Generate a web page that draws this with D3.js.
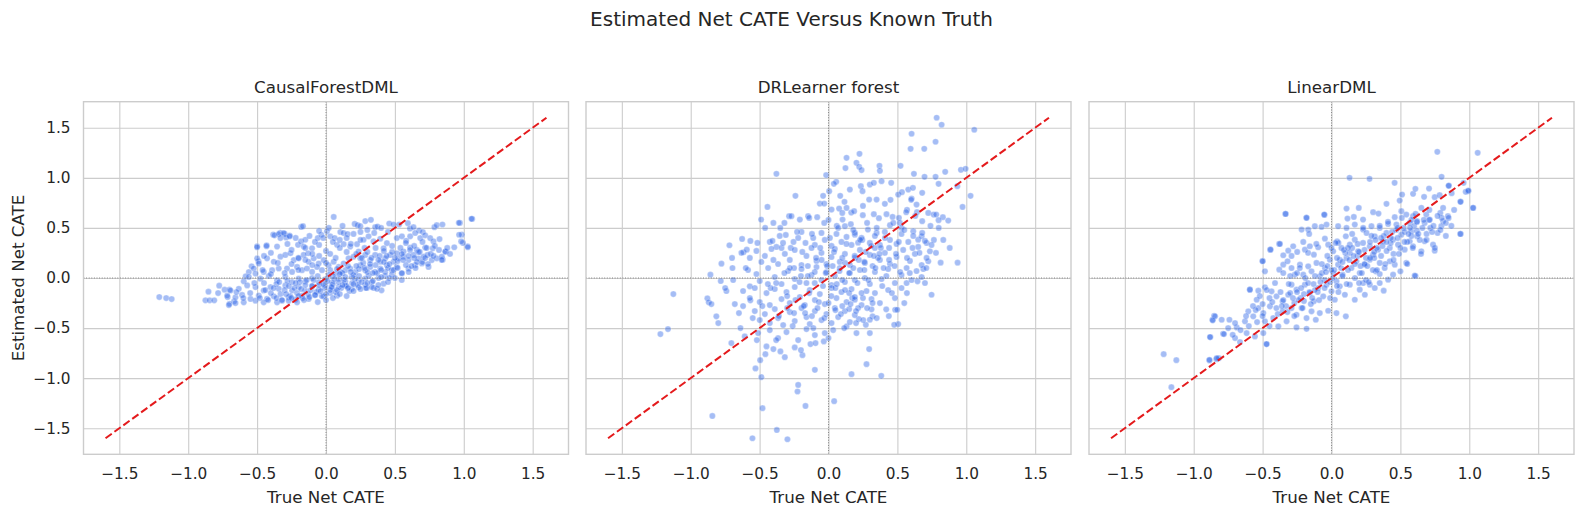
<!DOCTYPE html>
<html>
<head>
<meta charset="utf-8">
<script src="https://cdn.jsdelivr.net/npm/d3@7"></script>
<style>
  body { margin: 0; background: #fff; }
  svg { display: block; font-family: "DejaVu Sans", sans-serif; }
</style>
</head>
<body>
<script>
// chart values
var suptitle = "Estimated Net CATE Versus Known Truth";
var panelTitles = ["CausalForestDML", "DRLearner forest", "LinearDML"];
var xLabel = "True Net CATE";
var yLabel = "Estimated Net CATE";
var xTicks = [-1.5, -1, -0.5, 0, 0.5, 1, 1.5];
var yTicks = [-1.5, -1, -0.5, 0, 0.5, 1, 1.5];
var diagLine = [-1.6, 1.6];

var causalForestPts = [
  [-1.21,-0.19],[-1.16,-0.2],[-1.12,-0.21],[-0.875,-0.223],[-0.844,-0.223],[-0.811,-0.223],[-0.853,-0.137],[-0.775,-0.077],[-0.783,-0.15],[-0.736,-0.117],[-0.70,-0.117],[-0.714,-0.19],[-0.667,-0.233],[-0.70,-0.257],
  [-0.50,0.317],[-0.431,0.327],[-0.383,0.433],[-0.333,0.45],[-0.30,0.44],[-0.264,0.423],[-0.18,0.51],[-0.167,0.517],[0.056,0.61],[-0.49,0.167],[-0.54,0.117],[-0.56,0.06],[-0.597,-0.033],[-0.583,0.017],
  [0.403,-0.123],[0.297,-0.10],[0.347,-0.10],
  [0.869,0.263],[0.847,0.183],[0.931,0.307],[1.028,0.317],[0.986,0.433],[0.972,0.55],[1.061,0.59],[0.994,0.35],
  [0.208,0.54],[0.229,0.527],[0.249,0.517],[0.285,0.568],[0.326,0.581],[0.357,0.507],[0.374,0.514],[0.459,0.544],[0.49,0.534],[0.531,0.534],[0.594,0.547],[0.609,0.493],[0.635,0.507],[0.676,0.473],[0.703,0.459],[0.787,0.507],[0.804,0.527],[0.845,0.534],[0.964,0.551],[1.056,0.591],[0.966,0.432],[0.981,0.365],[1.029,0.307],
  [-0.374,0.426],[-0.343,0.439],[-0.307,0.449],[-0.290,0.405],[-0.331,0.399],[-0.263,0.416],[-0.355,0.314],[-0.432,0.318],[-0.5,0.307],[-0.203,0.331],[-0.181,0.365],[-0.150,0.382],[-0.162,0.314],[-0.101,0.297],[-0.130,0.247],
  [-0.060,0.399],[-0.034,0.432],[0.007,0.466],[0.031,0.416],[0.063,0.399],[0.104,0.459],[0.128,0.449],[0.157,0.439],[0.080,0.331],[0.128,0.338],[0.176,0.314],[0.225,0.338],[0.237,0.264],[0.273,0.382],[0.309,0.416],[0.345,0.365],[0.394,0.392],[0.442,0.348],[0.418,0.297],[0.514,0.399],[0.551,0.416],[0.582,0.372],[0.611,0.416],[0.647,0.449],[0.684,0.399],[0.720,0.426],[0.756,0.399],[0.780,0.365],[0.824,0.389],[0.775,0.297],[0.720,0.304],[0.659,0.280],[0.611,0.304],[0.563,0.264],[0.514,0.247],
  [-0.50,0.196],[-0.524,0.095],[-0.488,0.145],[-0.428,0.196],[-0.379,0.162],[-0.331,0.213],[-0.295,0.230],[-0.258,0.247],[-0.234,0.179],[-0.198,0.196],[-0.162,0.230],[-0.126,0.162],[-0.089,0.196],[-0.053,0.145],[-0.017,0.179],[0.019,0.128],[0.056,0.162],[0.092,0.111],[0.128,0.145],[0.164,0.196],[0.2,0.213],[0.249,0.196],[0.285,0.230],[0.321,0.179],[0.357,0.230],[0.394,0.162],[0.430,0.196],[0.466,0.230],[0.490,0.162],[0.527,0.196],[0.563,0.213],[0.599,0.179],[0.635,0.230],[0.671,0.196],[0.708,0.213],[0.737,0.230],[0.768,0.179],[0.804,0.196],[0.841,0.213],[0.865,0.264],
  [-0.512,0.044],[-0.452,0.061],[-0.391,0.078],[-0.343,0.095],[-0.283,0.095],[-0.246,0.061],[-0.210,0.111],[-0.174,0.078],[-0.138,0.095],[-0.101,0.061],[-0.065,0.111],[-0.029,0.078],[0.031,0.078],[0.068,0.044],[0.104,0.061],[0.140,0.078],[0.176,0.095],[0.213,0.061],[0.249,0.128],[0.285,0.078],[0.321,0.111],[0.357,0.061],[0.394,0.095],[0.442,0.128],[0.478,0.078],[0.514,0.111],[0.551,0.044],[0.599,0.095],[0.647,0.128],[0.696,0.145],[0.744,0.111],
  [-0.560,0.010],[-0.476,-0.007],[-0.415,0.020],[-0.355,-0.024],[-0.295,0.010],[-0.246,-0.041],[-0.198,-0.007],[-0.150,-0.034],[-0.101,0.0],[-0.053,-0.041],[-0.005,-0.014],[0.043,-0.047],[0.092,-0.007],[0.140,-0.034],[0.188,0.010],[0.237,-0.024],[0.285,-0.007],[0.333,-0.041],[0.382,0.0],[0.430,0.020],[0.478,0.034],
  [-0.693,-0.125],[-0.633,-0.108],[-0.572,-0.074],[-0.512,-0.091],[-0.452,-0.125],[-0.403,-0.091],[-0.343,-0.108],[-0.295,-0.074],[-0.246,-0.125],[-0.198,-0.091],[-0.150,-0.125],[-0.101,-0.081],[-0.053,-0.115],[-0.005,-0.074],[0.043,-0.101],[0.092,-0.091],[0.140,-0.074],[0.188,-0.108],[0.237,-0.091],[0.285,-0.068],[0.333,-0.091],[0.370,-0.108],[0.418,-0.057],
  [-0.717,-0.176],[-0.657,-0.193],[-0.609,-0.169],[-0.548,-0.209],[-0.488,-0.176],[-0.428,-0.209],[-0.379,-0.182],[-0.319,-0.226],[-0.271,-0.193],[-0.222,-0.216],[-0.174,-0.176],[-0.126,-0.209],[-0.077,-0.169],[-0.017,-0.182],[0.031,-0.149],[0.080,-0.176],
  [-0.705,-0.270],[-0.657,-0.250],[-0.597,-0.243],[-0.512,-0.226],[-0.452,-0.243],[-0.355,-0.243],[-0.271,-0.226],[-0.210,-0.243],
  [-0.45,-0.05],[-0.40,-0.15],[-0.36,-0.06],[-0.33,-0.16],[-0.30,-0.12],[-0.28,-0.03],[-0.26,-0.18],[-0.23,-0.10],[-0.21,-0.15],[-0.19,-0.04],[-0.17,-0.20],[-0.15,-0.07],[-0.13,-0.16],[-0.11,-0.12],[-0.09,-0.02],[-0.07,-0.14],[-0.05,-0.07],[-0.03,-0.18],[-0.01,-0.10],[0.01,-0.03],[0.03,-0.12],[0.05,-0.06],[0.07,-0.14],[0.09,-0.04],[0.11,-0.10],[0.13,-0.02],[0.15,-0.08],[0.17,-0.13],[0.19,-0.05],[0.21,-0.01],[0.23,-0.07],[0.26,-0.04],[0.29,-0.10],[0.31,0.02],[0.34,-0.03],[0.37,0.05],[0.40,0.01],[0.43,0.06],[0.46,0.00],[0.49,0.08],
  [0.05,0.02],[0.08,0.09],[0.12,0.05],[0.16,0.12],[0.20,0.03],[0.24,0.09],[0.27,0.15],[0.30,0.06],[0.33,0.20],[0.36,0.13],[0.39,0.22],[0.42,0.16],[0.45,0.10],[0.48,0.26],[0.52,0.17],[0.55,0.24],[0.58,0.13],[0.61,0.28],[0.64,0.20],[0.67,0.26],[0.70,0.16],[0.73,0.30],[0.76,0.24],[0.79,0.32],[0.55,0.05],[0.60,0.06],[0.65,0.10],
  [-0.25,0.28],[-0.20,0.20],[-0.15,0.30],[-0.10,0.24],[-0.05,0.33],[0.0,0.27],[0.05,0.36],[0.10,0.30],[0.15,0.40],[0.20,0.44],[0.25,0.46],[0.30,0.48],[0.35,0.45],[0.45,0.46],[0.40,0.50],[-0.05,0.47],[0.02,0.50],[0.12,0.52],
  [-0.48,-0.20],[-0.44,-0.12],[-0.42,-0.22],[-0.38,-0.10],[-0.36,-0.20],[-0.34,-0.04],[-0.32,-0.22],[-0.29,-0.16],[-0.27,-0.08],[-0.25,-0.20],[-0.22,-0.05],[-0.20,-0.18],[-0.18,-0.11],[-0.16,-0.22],[-0.14,-0.02],[-0.12,-0.19],[-0.10,-0.08],[-0.08,-0.17],[-0.06,0.02],[-0.04,-0.13],[-0.02,-0.06],[0.0,-0.16],[0.02,0.03],[0.04,-0.09],[0.06,-0.01],[0.08,-0.12],[0.10,0.04],[0.12,-0.07],[0.14,0.01],[0.16,-0.10],[0.18,0.06],[0.20,-0.06],[0.22,0.12],[0.24,0.02],[0.26,0.20],[0.28,0.10],[0.30,0.26],[0.32,0.14],[0.34,0.05],[0.36,0.30],[0.38,0.18],[0.40,0.08],[0.42,0.27],[0.44,0.22],[0.46,0.14],[0.48,0.32],[0.50,0.20],[0.52,0.10],[0.54,0.30],[0.56,0.18],[0.58,0.35],[0.60,0.22],[0.62,0.12],[0.64,0.32],[0.66,0.16],[0.68,0.26],[0.70,0.36],[0.72,0.20],[0.74,0.14],[0.78,0.22],[0.82,0.28],[0.84,0.18],[0.88,0.30],[0.90,0.24],
  [-0.55,-0.15],[-0.60,-0.20],[-0.65,-0.14],[-0.52,-0.05],[-0.46,0.08],[-0.40,0.04],[-0.35,0.15],[-0.30,0.05],[-0.25,0.14],[-0.20,0.08],[-0.15,0.18],[-0.10,0.13],[-0.05,0.22],[0.0,0.15],[0.03,0.24],[0.07,0.20],[0.10,0.38],[0.15,0.26],[0.18,0.34],[0.22,0.24],[0.25,0.38],[0.28,0.30],[-0.02,0.40],[-0.08,0.36],[-0.12,0.42],[-0.40,0.25],[-0.45,0.22],[-0.28,0.34],[-0.22,0.40],[0.0,-0.22],[-0.06,-0.24],[0.05,-0.20],[0.10,-0.16],[0.15,-0.18],[0.20,-0.13],[0.25,-0.11],[0.30,-0.05],[0.38,-0.07],[0.45,-0.04],[0.50,0.00],[0.55,-0.02]
];

var drLearnerPts = [
  [0.785,1.60],[0.821,1.53],[1.058,1.48],[0.603,1.44],[0.777,1.36],[0.596,1.29],[0.695,1.29],[0.225,1.24],[0.131,1.20],[0.203,1.15],[0.223,1.11],[0.240,1.077],[0.123,1.097],[0.370,1.12],[0.373,1.07],[0.523,1.12],[-0.378,1.04],[-0.017,1.027],[0.620,1.04],[0.697,1.01],[0.777,1.01],[0.847,1.06],[0.961,1.08],[0.995,1.09],[0.799,0.94],[0.935,0.917],[1.031,0.82],[0.973,0.71],
  [0.056,0.96],[0.039,0.94],[0.005,0.867],[0.085,0.82],[-0.039,0.82],[-0.063,0.743],[-0.031,0.743],[-0.24,0.82],[-0.443,0.71],[0.155,0.883],[0.235,0.917],[0.300,0.933],[0.329,0.95],[0.385,0.967],[0.455,0.95],[0.247,0.867],[0.295,0.783],[0.349,0.783],[0.409,0.74],[0.506,0.833],[0.533,0.857],[0.579,0.883],[0.613,0.9],[0.603,0.793],[0.680,0.85],[0.639,0.733],[0.57,0.68],
  [0.077,0.693],[0.131,0.70],[0.116,0.76],[0.165,0.653],[0.186,0.667],[0.249,0.627],[0.329,0.637],[0.366,0.597],[0.421,0.637],[0.465,0.61],[0.511,0.60],[0.564,0.657],[0.680,0.567],[0.724,0.65],[0.763,0.633],[0.782,0.633],[0.83,0.607],[0.869,0.573],[0.799,0.577],[0.642,0.657],[0.022,0.683],
  [0.102,0.583],[0.119,0.517],[0.162,0.537],[0.191,0.433],[0.215,0.353],[0.245,0.38],[0.286,0.483],[0.349,0.45],[0.446,0.527],[0.518,0.55],[0.530,0.5],[0.615,0.467],[0.651,0.383],[0.712,0.35],[0.765,0.38],[0.833,0.38],[0.814,0.153],[0.937,0.153],[0.676,0.417],[0.736,0.267],[0.724,0.167],[0.688,0.09],[0.646,-0.033],[0.748,-0.167],[0.569,-0.15],[0.567,-0.05],
  [0.484,-0.317],[0.499,-0.317],[0.506,-0.46],[0.477,-0.467],[0.419,-0.313],[0.438,-0.38],[0.312,-0.313],[0.320,-0.383],[0.3,-0.417],[0.271,-0.467],[0.295,-0.71],[0.276,-0.86],[0.383,-0.977],[0.167,-0.96],[0.203,-0.55],[0.131,-0.483],[0.114,-0.5],[0.22,-0.41],[0.172,-0.2],[0.191,-0.217],
  [-0.027,-0.55],[-0.034,-0.633],[0.041,-1.23],[-0.099,-0.917],[-0.167,-1.277],[-0.22,-1.067],[-0.225,-1.133],[-0.131,-0.66],[-0.094,-0.65],[-0.189,-0.77],[-0.245,-0.693],[-0.317,-0.79],[-0.349,-0.733],[-0.4,-0.71],[-0.45,-0.683],[-0.458,-0.76],[-0.496,-0.82],[-0.530,-0.903],[-0.487,-0.99],[-0.479,-1.3],[-0.375,-1.517],[-0.552,-1.6],[-0.298,-1.61],[-0.843,-1.377],
  [-0.511,-0.55],[-0.639,-0.5],[-0.705,-0.65],[-0.608,-0.583],[-1.22,-0.56],[-1.165,-0.51],[-1.126,-0.16],[-0.879,-0.203],[-0.869,-0.243],[-0.85,-0.26],[-0.814,-0.383],[-0.857,0.033],[-0.782,-0.03],[-0.777,0.143],[-0.697,0.1],[-0.719,0.327],[-0.627,0.39],[-0.617,0.257],[-0.567,0.37],[-0.593,0.283],[-0.516,0.35],[-0.489,0.583],[-0.741,-0.13],[-0.68,-0.26],[-0.62,-0.28],[-0.571,-0.083],[-0.567,-0.223],
  [-0.286,0.617],[-0.269,0.617],[-0.208,0.583],[-0.148,0.617],[-0.082,0.607],[-0.031,0.55],[-0.35,0.5],[-0.4,0.55],[0.0,0.58],[0.06,0.52],
  [-0.426,0.36],[-0.407,0.37],[-0.378,0.31],[-0.354,0.42],[-0.31,0.43],[-0.341,0.30],[-0.254,0.36],[-0.274,0.30],[-0.196,0.46],[-0.228,0.46],[-0.167,0.35],[-0.111,0.40],[-0.099,0.33],[-0.051,0.45],[-0.027,0.38],[0.022,0.32],[0.058,0.44],[0.094,0.36],[0.131,0.41],[0.167,0.33],[0.191,0.45],[0.240,0.40],[0.300,0.35],[0.337,0.42],[0.373,0.33],[0.409,0.46],[0.446,0.38],[0.494,0.34],[0.530,0.44],[0.579,0.36],[0.615,0.42],[0.651,0.31],[0.70,0.37],[0.748,0.33],
  [-0.632,0.25],[-0.571,0.20],[-0.523,0.27],[-0.487,0.16],[-0.462,0.22],[-0.414,0.29],[-0.366,0.14],[-0.317,0.24],[-0.281,0.18],[-0.245,0.28],[-0.196,0.13],[-0.16,0.22],[-0.123,0.30],[-0.087,0.17],[-0.051,0.25],[-0.015,0.14],[0.022,0.21],[0.046,0.29],[0.082,0.16],[0.119,0.24],[0.155,0.13],[0.191,0.20],[0.228,0.28],[0.264,0.15],[0.3,0.23],[0.337,0.30],[0.373,0.18],[0.409,0.25],[0.446,0.14],[0.494,0.21],[0.542,0.28],[0.591,0.17],[0.627,0.24],[0.676,0.13],[0.712,0.20],
  [-0.692,-0.02],[-0.584,0.08],[-0.523,0.04],[-0.499,-0.03],[-0.438,0.10],[-0.39,0.01],[-0.341,-0.06],[-0.293,0.07],[-0.245,-0.01],[-0.196,0.09],[-0.16,-0.05],[-0.123,0.03],[-0.087,0.11],[-0.051,-0.02],[-0.015,0.06],[0.022,-0.07],[0.046,0.02],[0.082,0.10],[0.119,-0.04],[0.155,0.05],[0.191,-0.02],[0.228,0.08],[0.264,0.00],[0.300,-0.06],[0.337,0.06],[0.385,-0.01],[0.433,0.09],[0.482,-0.05],[0.530,0.03],[0.567,0.10],[0.603,-0.02],[0.639,0.07],[0.676,0.01],
  [-0.62,-0.13],[-0.571,-0.20],[-0.535,-0.10],[-0.499,-0.24],[-0.45,-0.15],[-0.426,-0.27],[-0.39,-0.11],[-0.341,-0.21],[-0.305,-0.14],[-0.281,-0.25],[-0.245,-0.09],[-0.208,-0.19],[-0.172,-0.27],[-0.136,-0.12],[-0.099,-0.22],[-0.063,-0.16],[-0.027,-0.26],[0.022,-0.10],[0.058,-0.20],[0.094,-0.14],[0.131,-0.24],[0.167,-0.11],[0.191,-0.19],[0.240,-0.27],[0.276,-0.13],[0.312,-0.21],[0.337,-0.15],[0.373,-0.25],[0.433,-0.12],[0.482,-0.20],
  [-0.535,-0.33],[-0.499,-0.42],[-0.462,-0.36],[-0.426,-0.45],[-0.39,-0.31],[-0.366,-0.40],[-0.329,-0.47],[-0.281,-0.34],[-0.245,-0.43],[-0.196,-0.30],[-0.16,-0.39],[-0.136,-0.46],[-0.099,-0.33],[-0.051,-0.42],[-0.015,-0.36],[0.022,-0.45],[0.046,-0.30],[0.07,-0.39],[0.119,-0.33],[0.155,-0.44],[0.191,-0.37],[0.215,-0.30],[0.252,-0.42],
  [-0.426,-0.52],[-0.366,-0.60],[-0.305,-0.54],[-0.22,-0.62],[-0.16,-0.51],[-0.099,-0.57],[0.034,-0.52],[0.3,-0.55],
  [-0.30,-0.30],[-0.25,-0.35],[-0.18,-0.28],[-0.12,-0.38],[-0.08,-0.30],[0.0,-0.25],[0.05,-0.32],[0.10,-0.28],[0.15,-0.31],[0.20,-0.33],[0.25,-0.20],[0.28,-0.30],[-0.02,0.05],[0.03,0.12],[0.08,0.07],[0.12,0.15],[0.18,0.10],[0.22,0.18],[0.26,0.08],[0.32,0.12],[0.36,0.20],[0.40,0.10],[0.44,0.18],[0.27,0.26],[0.33,0.22],[0.38,0.30],[-0.10,0.06],[-0.15,0.12],[-0.20,0.02],[-0.25,0.10],[-0.32,0.05],[-0.38,-0.05],[-0.42,-0.10],[-0.10,-0.05],[0.05,-0.10],[0.10,-0.02],[0.15,-0.15],[-0.05,0.18],[0.48,0.12],[0.52,0.06],
  [-0.55,-0.40],[-0.48,-0.28],[-0.44,-0.06],[-0.40,0.18],[-0.36,-0.38],[-0.33,0.35],[-0.30,-0.18],[-0.28,0.10],[-0.26,-0.48],[-0.24,-0.22],[-0.22,0.40],[-0.21,-0.04],[-0.19,0.26],[-0.17,-0.35],[-0.15,0.02],[-0.14,-0.15],[-0.12,0.44],[-0.11,-0.50],[-0.09,0.20],[-0.07,-0.24],[-0.06,0.30],[-0.04,-0.08],[-0.03,-0.40],[-0.01,0.12],[0.01,0.40],[0.02,-0.18],[0.04,0.26],[0.06,-0.06],[0.07,0.50],[0.09,-0.36],[0.10,0.20],[0.12,-0.12],[0.13,0.34],[0.15,0.05],[0.16,-0.26],[0.18,0.48],[0.19,0.22],[0.21,-0.05],[0.23,0.38],[0.24,-0.15],[0.26,0.16],[0.28,0.55],[0.29,-0.02],[0.31,0.32],[0.32,-0.25],[0.34,0.10],[0.35,0.50],[0.37,0.24],[0.39,-0.08],[0.41,0.40],[0.42,0.02],[0.44,0.30],[0.46,-0.15],[0.47,0.55],[0.49,0.24],[0.51,0.36],[0.53,-0.10],[0.55,0.48],[0.57,0.20],[0.59,0.05],[0.61,0.30],[0.63,0.62],[0.66,0.25],[0.68,0.45],[0.71,0.10],[0.74,0.52],[0.78,0.25],[-0.60,0.10],[-0.65,-0.35],[-0.70,0.20],[-0.52,-0.62],[-0.46,0.50],[-0.38,-0.62],[-0.32,0.55],[-0.20,-0.72],[-0.14,0.60],[0.0,-0.60],[0.10,0.65],[0.20,-0.45],[0.25,0.72],[0.35,-0.40],[0.45,0.78],[0.55,-0.25],[0.60,0.78],[0.70,-0.05],[0.80,0.50],[0.88,0.30],[-0.80,-0.45],[-0.75,-0.10]
];

var linearDmlPts = [
  [-1.218,-0.76],[-1.126,-0.82],[-1.162,-1.09],[-0.879,-0.59],[-0.864,-0.417],[-0.852,-0.377],[-0.886,-0.823],[-0.835,-0.81],[-0.818,-0.8],[-0.787,-0.557],[-0.741,-0.417],[0.768,1.26],[1.061,1.25],[0.131,1.0],[0.276,0.99],[0.458,0.95],[0.799,1.01],[1.029,0.7],[0.937,0.763],[0.993,0.867],[0.959,0.95],[0.852,0.923],[0.937,0.44],[-0.334,0.64],[-0.182,0.603],[-0.051,0.63],[-0.445,0.283],[-0.38,0.34],[-0.5,0.17],[-0.472,-0.66],[-0.593,-0.117],[0.61,0.02],
  [0.512,0.833],[0.592,0.84],[0.609,0.89],[0.708,0.893],[0.672,0.81],[0.749,0.807],[0.785,0.827],[0.85,0.92],[0.872,0.847],[0.936,0.76],[0.974,0.86],[0.993,0.873],[1.027,0.70],[0.399,0.74],[0.495,0.773],[0.198,0.70],[0.109,0.693],
  [-0.333,0.64],[-0.181,0.60],[-0.053,0.633],[0.116,0.593],[0.162,0.61],[0.229,0.583],[0.302,0.657],[0.341,0.643],[0.459,0.607],[0.507,0.667],[0.543,0.633],[0.592,0.617],[0.652,0.70],[0.688,0.633],[0.713,0.583],[0.79,0.65],[0.81,0.567],[0.845,0.617],[0.797,0.517],[0.717,0.5],[0.676,0.55],[0.621,0.567],[0.568,0.55],[0.524,0.5],[0.471,0.533],[0.411,0.54],[0.35,0.5],[0.29,0.517],[0.229,0.483],[0.169,0.533],[0.109,0.5],[0.048,0.517],[-0.036,0.533],[-0.072,0.51],[-0.121,0.517],[-0.169,0.483],[-0.217,0.483],[0.935,0.44],
  [-0.442,0.283],[-0.374,0.34],[-0.35,0.227],[-0.314,0.273],[-0.278,0.317],[-0.249,0.26],[-0.205,0.36],[-0.193,0.283],[-0.162,0.44],[-0.157,0.317],[-0.128,0.233],[-0.097,0.307],[-0.048,0.393],[-0.024,0.333],[0.012,0.267],[0.041,0.367],[0.072,0.30],[0.104,0.417],[0.133,0.333],[0.169,0.383],[0.193,0.267],[0.229,0.35],[0.254,0.45],[0.278,0.317],[0.314,0.417],[0.338,0.283],[0.374,0.367],[0.399,0.45],[0.423,0.30],[0.447,0.383],[0.483,0.333],[0.507,0.433],[0.531,0.283],[0.568,0.367],[0.592,0.317],[0.621,0.417],[0.652,0.267],[0.676,0.367],[0.737,0.333],[0.749,0.273],[0.58,0.467],[0.302,0.233],[0.133,0.25],
  [-0.5,0.167],[-0.483,0.067],[-0.379,0.083],[-0.35,0.133],[-0.319,0.167],[-0.29,0.10],[-0.266,0.033],[-0.229,0.133],[-0.205,0.033],[-0.169,0.117],[-0.145,0.067],[-0.109,0.15],[-0.085,0.017],[-0.048,0.10],[-0.012,0.183],[0.012,0.05],[0.048,0.133],[0.08,0.033],[0.109,0.20],[0.145,0.10],[0.181,0.167],[0.205,0.05],[0.242,0.133],[0.278,0.183],[0.321,0.067],[0.35,0.15],[0.386,0.10],[0.423,0.167],[0.459,0.133],[0.5,0.067],[0.543,0.15],[0.604,0.023],[0.447,0.033],
  [-0.592,-0.117],[-0.531,-0.127],[-0.543,-0.217],[-0.483,-0.093],[-0.435,-0.133],[-0.399,-0.183],[-0.355,-0.233],[-0.314,-0.167],[-0.29,-0.067],[-0.254,-0.117],[-0.225,-0.20],[-0.193,-0.067],[-0.157,-0.15],[-0.128,-0.233],[-0.097,-0.10],[-0.06,-0.183],[-0.036,-0.067],[0.0,-0.133],[0.024,-0.217],[0.06,-0.083],[0.097,-0.167],[0.133,-0.067],[0.169,-0.217],[0.205,-0.117],[0.242,-0.167],[0.278,-0.067],[0.314,-0.10],[0.35,-0.05],[0.379,-0.127],[0.411,-0.017],[0.036,-0.033],[0.23,-0.05],
  [-0.845,-0.383],[-0.862,-0.423],[-0.797,-0.417],[-0.628,-0.433],[-0.604,-0.333],[-0.568,-0.383],[-0.531,-0.30],[-0.495,-0.35],[-0.483,-0.433],[-0.447,-0.283],[-0.423,-0.40],[-0.386,-0.483],[-0.355,-0.333],[-0.326,-0.433],[-0.29,-0.30],[-0.254,-0.367],[-0.254,-0.493],[-0.217,-0.30],[-0.181,-0.40],[-0.145,-0.333],[-0.114,-0.417],[-0.085,-0.35],[-0.024,-0.327],[0.036,-0.35],[0.104,-0.383],[-0.181,-0.507],[-0.688,-0.493],[-0.78,-0.56],
  [-0.882,-0.59],[-0.70,-0.60],[-0.664,-0.64],[-0.616,-0.55],[-0.556,-0.583],[-0.471,-0.66],[-0.495,-0.55],[-0.886,-0.817],[-0.833,-0.80],[-0.717,-0.567],
  [-0.35,-0.22],[-0.30,-0.15],[-0.27,-0.25],[-0.22,-0.10],[-0.20,-0.23],[-0.17,-0.05],[-0.14,-0.20],[-0.12,0.02],[-0.10,-0.14],[-0.07,0.05],[-0.05,-0.10],[-0.03,0.12],[-0.01,-0.04],[0.02,0.08],[0.04,-0.08],[0.06,0.18],[0.08,0.02],[0.10,0.25],[0.12,0.08],[0.15,0.30],[0.17,0.14],[0.19,0.22],[0.22,0.05],[0.24,0.28],[0.26,0.12],[0.28,0.36],[0.31,0.20],[0.33,0.30],[0.36,0.22],[0.38,0.42],[0.40,0.27],[0.43,0.35],[0.45,0.24],[0.48,0.40],[0.50,0.30],[0.53,0.46],[0.55,0.36],[0.58,0.42],[0.60,0.52],[0.62,0.47],[0.64,0.38],[0.66,0.50],[0.69,0.44],[0.71,0.58],[0.74,0.52],[0.77,0.45],[0.80,0.60],[0.83,0.55],[0.30,0.08],[0.35,0.04],[0.20,-0.05],[0.25,-0.02],[-0.40,-0.30],[-0.45,-0.20],[-0.50,-0.26],[-0.55,-0.32],[-0.25,0.05],[-0.30,0.02],[0.05,0.35],[0.0,0.30],
  [-0.75,-0.50],[-0.70,-0.45],[-0.66,-0.52],[-0.62,-0.38],[-0.60,-0.48],[-0.57,-0.28],[-0.54,-0.44],[-0.52,-0.18],[-0.50,-0.38],[-0.47,-0.12],[-0.45,-0.48],[-0.43,-0.24],[-0.41,-0.05],[-0.39,-0.36],[-0.37,-0.14],[-0.35,0.05],[-0.33,-0.28],[-0.31,-0.06],[-0.29,0.22],[-0.27,-0.38],[-0.25,-0.14],[-0.23,0.10],[-0.21,-0.30],[-0.19,0.00],[-0.17,0.25],[-0.15,-0.26],[-0.13,-0.06],[-0.11,0.34],[-0.09,-0.22],[-0.07,0.14],[-0.05,-0.02],[-0.03,0.22],[-0.01,-0.20],[0.01,0.00],[0.03,0.35],[0.05,-0.14],[0.07,0.10],[0.09,0.28],[0.11,-0.06],[0.13,0.18],[0.15,0.44],[0.17,0.00],[0.19,0.34],[0.21,0.12],[0.23,0.50],[0.25,0.20],[0.27,-0.04],[0.29,0.42],[0.31,0.26],[0.33,0.08],[0.35,0.52],[0.37,0.32],[0.39,0.14],[0.41,0.56],[0.43,0.40],[0.45,0.18],[0.47,0.48],[0.49,0.24],[0.51,0.60],[0.53,0.36],[0.55,0.14],[0.57,0.50],[0.59,0.30],[0.61,0.64],[0.63,0.44],[0.65,0.24],[0.67,0.58],[0.69,0.38],[0.71,0.68],[0.73,0.46],[0.75,0.30],[0.77,0.62],[0.79,0.48],[0.81,0.70],[0.83,0.42],[0.85,0.60],[0.87,0.52],[0.89,0.68],[0.58,0.58],[0.62,0.56],[0.56,0.44],[0.48,0.50],[0.44,0.46],[0.40,0.36],[0.36,0.40],[0.32,0.38],[0.28,0.20],[0.24,0.14],[0.20,0.26],[0.16,0.22],[0.12,0.30],[0.08,0.16],[0.04,0.20],[0.0,0.08],[-0.04,0.06],[-0.08,-0.04],[-0.12,-0.12],[-0.16,-0.14],[-0.20,-0.16],[-0.24,-0.22],[-0.28,-0.20],[-0.32,-0.34],[-0.36,-0.28]
];

var panelData = [causalForestPts, drLearnerPts, linearDmlPts];

// layout
var W = 1583, H = 517;
var panelLeft = [83.5, 586, 1089];
var panelW = 485, panelTop = 101.7, panelH = 352.6;
var lim = 1.76;
var textColor = "#262626";

var svg = d3.select("body").append("svg")
  .attr("width", W).attr("height", H);

svg.append("rect").attr("width", W).attr("height", H).attr("fill", "#fff");

svg.append("text")
  .attr("x", W / 2).attr("y", 26)
  .attr("text-anchor", "middle")
  .style("font-size", "20px").style("fill", textColor)
  .text(suptitle);

var fmt = d3.format(".1f");

panelData.forEach(function(pts, i) {
  var x = d3.scaleLinear().domain([-lim, lim]).range([0, panelW]);
  var y = d3.scaleLinear().domain([-lim, lim]).range([panelH, 0]);
  var g = svg.append("g")
    .attr("transform", "translate(" + panelLeft[i] + "," + panelTop + ")");

  // grid + tick labels
  var xAxis = g.append("g")
    .attr("transform", "translate(0," + panelH + ")")
    .call(d3.axisBottom(x).tickValues(xTicks).tickSize(-panelH).tickPadding(14).tickFormat(fmt));
  var yAxis = g.append("g")
    .call(d3.axisLeft(y).tickValues(yTicks).tickSize(-panelW).tickPadding(13)
      .tickFormat(i === 0 ? fmt : function() { return ""; }));
  [xAxis, yAxis].forEach(function(a) {
    a.select(".domain").remove();
    a.selectAll(".tick line").attr("stroke", "#cccccc").attr("stroke-width", 1.1);
    a.selectAll(".tick text").style("font-size", "15.3px").style("font-family", "DejaVu Sans")
      .attr("fill", textColor);
  });

  // points
  g.append("g").selectAll("circle").data(pts).enter().append("circle")
    .attr("cx", function(d) { return x(d[0]); })
    .attr("cy", function(d) { return y(d[1]); })
    .attr("r", 3.1)
    .attr("fill", "#1f5ae6").attr("fill-opacity", 0.4)
    .attr("stroke", "#fff").attr("stroke-opacity", 0.4).attr("stroke-width", 0.7);

  // identity line
  g.append("line")
    .attr("x1", x(diagLine[0])).attr("y1", y(diagLine[0]))
    .attr("x2", x(diagLine[1])).attr("y2", y(diagLine[1]))
    .attr("stroke", "#e41a1c").attr("stroke-width", 2)
    .attr("stroke-dasharray", "7.7,3.3");

  // zero reference lines
  g.append("line")
    .attr("x1", 0).attr("x2", panelW).attr("y1", y(0)).attr("y2", y(0))
    .attr("stroke", "#808080").attr("stroke-width", 1).attr("stroke-dasharray", "1,1.6");
  g.append("line")
    .attr("y1", 0).attr("y2", panelH).attr("x1", x(0)).attr("x2", x(0))
    .attr("stroke", "#808080").attr("stroke-width", 1).attr("stroke-dasharray", "1,1.6");

  // spines
  g.append("rect")
    .attr("width", panelW).attr("height", panelH)
    .attr("fill", "none").attr("stroke", "#cccccc").attr("stroke-width", 1.4);

  g.append("text")
    .attr("x", panelW / 2).attr("y", -8.3)
    .attr("text-anchor", "middle")
    .style("font-size", "16.7px").style("fill", textColor)
    .text(panelTitles[i]);

  g.append("text")
    .attr("x", panelW / 2).attr("y", panelH + 49)
    .attr("text-anchor", "middle")
    .style("font-size", "16.7px").style("fill", textColor)
    .text(xLabel);

  if (i === 0) {
    g.append("text")
      .attr("transform", "translate(" + (24 - panelLeft[0]) + "," + (panelH / 2) + ") rotate(-90)")
      .attr("text-anchor", "middle")
      .style("font-size", "16.7px").style("fill", textColor)
      .text(yLabel);
  }
});
</script>
</body>
</html>
